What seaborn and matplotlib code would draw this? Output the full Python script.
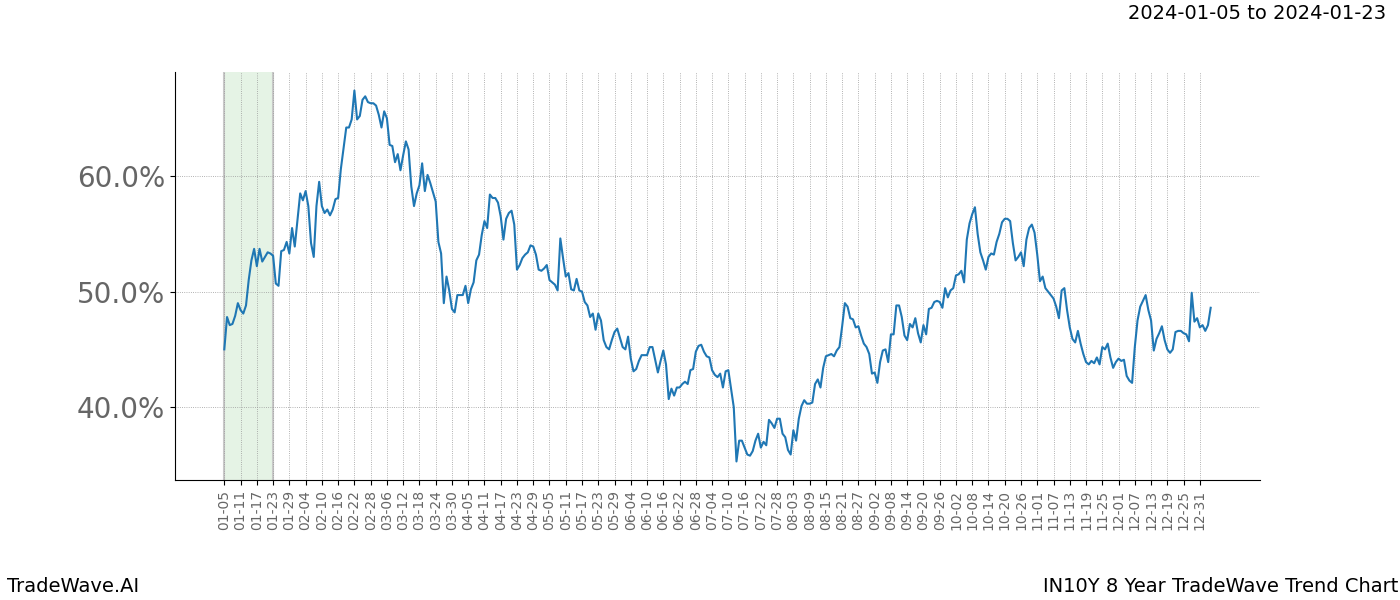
import matplotlib
matplotlib.use("Agg")
import matplotlib.pyplot as plt
import seaborn as sns
import pandas as pd
from matplotlib.ticker import PercentFormatter, FixedLocator

# ---- data ----
start_date = "2023-01-05"
values_pct = [
    45.0, 47.8, 47.1, 47.2, 47.9, 49.0, 48.4, 48.1, 48.8, 51.0,
    52.7, 53.7, 52.2, 53.7, 52.6, 53.0, 53.4, 53.3, 53.1, 50.7,
    50.5, 53.5, 53.6, 54.3, 53.3, 55.5, 53.9, 56.2, 58.5, 57.9,
    58.7, 57.4, 54.2, 53.0, 57.4, 59.5, 57.4, 56.8, 57.1, 56.6,
    57.1, 58.0, 58.1, 60.6, 62.4, 64.2, 64.2, 64.9, 67.4, 64.9,
    65.2, 66.6, 66.9, 66.4, 66.3, 66.3, 66.1, 65.3, 64.2, 65.6,
    65.0, 62.7, 62.6, 61.2, 61.9, 60.5, 61.8, 63.0, 62.3, 59.1,
    57.4, 58.5, 59.2, 61.1, 58.7, 60.1, 59.4, 58.6, 57.8, 54.3,
    53.3, 49.0, 51.3, 50.1, 48.5, 48.2, 49.7, 49.7, 49.7, 50.5,
    49.0, 50.2, 50.8, 52.7, 53.2, 54.9, 56.1, 55.5, 58.4, 58.1,
    58.1, 57.7, 56.5, 54.5, 56.3, 56.8, 57.0, 55.8, 51.9, 52.3,
    52.9, 53.2, 53.4, 54.0, 53.9, 53.2, 51.9, 51.8, 52.0, 52.3,
    51.0, 50.8, 50.6, 50.1, 54.6, 52.9, 51.3, 51.6, 50.2, 50.1,
    51.1, 50.1, 50.0, 49.1, 48.8, 47.8, 48.1, 46.7, 48.1, 47.5,
    45.8, 45.2, 45.0, 45.8, 46.5, 46.8, 46.0, 45.2, 45.0, 46.1,
    44.2, 43.1, 43.3, 44.0, 44.5, 44.5, 44.5, 45.2, 45.2, 44.1,
    43.0, 44.0, 44.9, 43.7, 40.7, 41.6, 41.0, 41.7, 41.7, 42.0,
    42.2, 42.0, 43.2, 43.3, 44.8, 45.3, 45.4, 44.8, 44.4, 44.3,
    43.2, 42.8, 42.6, 42.9, 41.7, 43.1, 43.2, 41.6, 40.0, 35.3,
    37.1, 37.1, 36.5, 35.9, 35.8, 36.2, 37.1, 37.7, 36.5, 37.0,
    36.7, 38.9, 38.6, 38.2, 39.0, 39.0, 37.7, 37.4, 36.3, 35.9,
    38.0, 37.1, 39.0, 40.1, 40.6, 40.3, 40.3, 40.4, 42.0, 42.4,
    41.7, 43.4, 44.4, 44.5, 44.6, 44.4, 44.9, 45.2, 47.0, 49.0,
    48.7, 47.7, 47.6, 46.9, 47.0, 46.2, 45.5, 45.2, 44.6, 42.9,
    43.0, 42.1, 43.9, 44.9, 45.0, 43.9, 46.3, 46.3, 48.8, 48.8,
    47.8, 46.2, 45.8, 47.2, 46.9, 47.7, 46.4, 45.6, 47.1, 46.3,
    48.5, 48.6, 49.1, 49.2, 49.1, 48.6, 50.3, 49.5, 50.1, 50.3,
    51.4, 51.5, 51.8, 50.8, 54.5, 55.9, 56.7, 57.3, 55.0, 53.4,
    52.7, 51.9, 53.0, 53.3, 53.2, 54.3, 55.0, 56.0, 56.3, 56.3,
    56.1, 54.2, 52.7, 53.0, 53.4, 52.2, 54.5, 55.5, 55.8, 55.1,
    53.2, 50.9, 51.3, 50.3, 50.0, 49.7, 49.4, 48.7, 47.7, 50.1,
    50.3, 48.4, 46.9, 45.9, 45.6, 46.6, 45.5, 44.6, 43.9, 43.7,
    44.0, 43.8, 44.3, 43.7, 45.2, 45.0, 45.5, 44.3, 43.4, 43.9,
    44.2, 44.0, 44.1, 42.7, 42.3, 42.1, 45.2, 47.5, 48.7, 49.2,
    49.7, 48.4, 47.5, 44.9, 45.9, 46.4, 47.0, 45.8, 45.0, 44.7,
    45.0, 46.5, 46.6, 46.6, 46.4, 46.3, 45.7, 49.9, 47.4, 47.7,
    46.9, 47.1, 46.6, 47.1, 48.6,
]
highlight_start = 0
highlight_end = 18
tick_step = 6
y_ticks = [0.40, 0.50, 0.60]
title_right = "2024-01-05 to 2024-01-23"
footer_left = "TradeWave.AI"
footer_right = "IN10Y 8 Year TradeWave Trend Chart"

dates = pd.date_range(start_date, periods=len(values_pct)).strftime("%m-%d").tolist()
df = pd.DataFrame({
    "idx": range(len(values_pct)),
    "value": [v / 100.0 for v in values_pct],
})

fig, ax = plt.subplots(figsize=(14, 6), dpi=100)
fig.subplots_adjust(left=0.125, right=0.9, top=0.88, bottom=0.2)

ax.axvspan(highlight_start, highlight_end, facecolor=(0.17, 0.63, 0.17, 0.12),
           edgecolor="none", zorder=0)
for edge in (highlight_start, highlight_end):
    ax.axvline(edge, color="#c8c8c8", linewidth=1.5, zorder=0.5)
sns.lineplot(data=df, x="idx", y="value", ax=ax, color="#1f77b4", linewidth=1.5, zorder=3)

tick_pos = list(range(0, len(values_pct), tick_step))
ax.xaxis.set_major_locator(FixedLocator(tick_pos))
ax.set_xticklabels([dates[i] for i in tick_pos], rotation=90, fontsize=10, color="#666666")
ax.set_yticks(y_ticks)
ax.yaxis.set_major_formatter(PercentFormatter(1.0, decimals=1))
ax.tick_params(axis="y", labelsize=20, labelcolor="#666666")

ax.grid(True, which="major", axis="both", linestyle=":", linewidth=0.6, color="#999999")
ax.set_axisbelow(True)
ax.spines["top"].set_visible(False)
ax.spines["right"].set_visible(False)
ax.set_xlabel("")
ax.set_ylabel("")

fig.text(0.99, 0.978, title_right, ha="right", va="center", fontsize=14)
fig.text(0.005, 0.022, footer_left, ha="left", va="center", fontsize=14)
fig.text(0.999, 0.022, footer_right, ha="right", va="center", fontsize=14)

fig.savefig("out.png", dpi=100)
